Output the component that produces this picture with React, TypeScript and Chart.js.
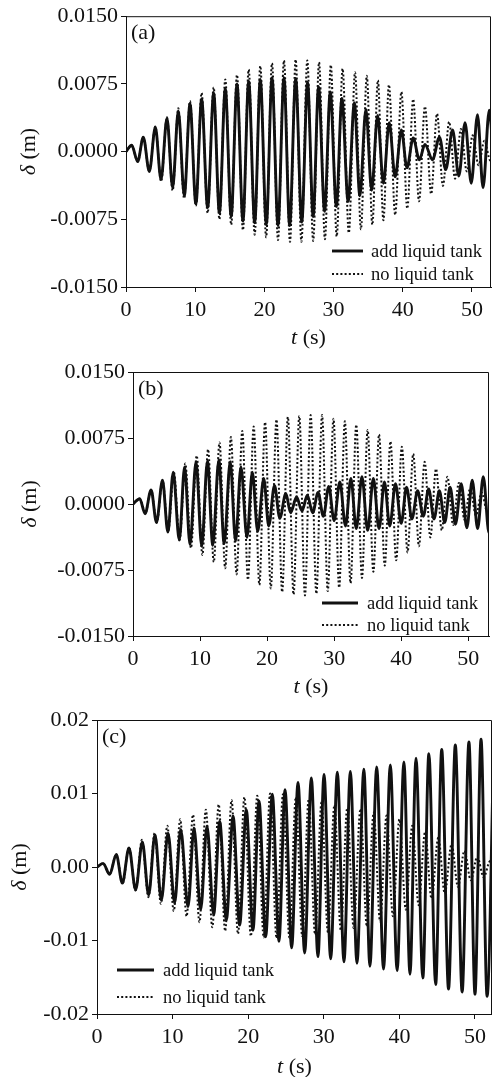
import { useEffect, useRef } from "react";
import { Chart, registerables } from "chart.js";

Chart.register(...registerables);

type Pt = [number, number];

// Axis tick values and series names
const xTicks = [0, 10, 20, 30, 40, 50];
const yTicksAB = [-0.015, -0.0075, 0, 0.0075, 0.015];
const yTicksC = [-0.02, -0.01, 0, 0.01, 0.02];
const seriesNames = ["add liquid tank", "no liquid tank"];
const panelLabels = ["(a)", "(b)", "(c)"];

// Displacement response: successive crests and troughs [t (s), δ (m)]
const addTankA: Pt[] = [
  [0, 0], [0.82, 0.0007], [1.69, -0.0011], [2.5, 0.0016], [3.37, -0.0022], [4.24, 0.0027], [5.06, -0.0031],
  [5.92, 0.0037], [6.74, -0.004], [7.56, 0.0045], [8.43, -0.0049], [9.25, 0.0053], [10.1, -0.0058],
  [10.93, 0.0058], [11.8, -0.0062], [12.67, 0.0065], [13.5, -0.0068], [14.35, 0.007], [15.2, -0.0072],
  [16.04, 0.0075], [16.9, -0.0077], [17.73, 0.0078], [18.6, -0.0079], [19.41, 0.008], [20.28, -0.0081],
  [21.1, 0.0082], [21.97, -0.0082], [22.83, 0.0082], [23.65, -0.0082], [24.52, 0.0081], [25.4, -0.0078],
  [26.24, 0.0077], [27.05, -0.0072], [27.83, 0.0072], [28.7, -0.0066], [29.52, 0.0066], [30.4, -0.0061],
  [31.2, 0.0059], [32.1, -0.0055], [33.0, 0.0054], [33.8, -0.0049], [34.67, 0.0047], [35.5, -0.0043],
  [36.36, 0.004], [37.2, -0.0035], [38.04, 0.0032], [38.9, -0.0028], [39.8, 0.0024], [40.6, -0.0018],
  [41.5, 0.0015], [42.4, -0.0009], [43.2, 0.0008], [44.3, -0.0009], [45.3, 0.0016], [46.2, -0.002],
  [47.2, 0.0024], [48.1, -0.0027], [49.0, 0.0032], [49.9, -0.0035], [50.8, 0.0041], [51.6, -0.004],
  [52.5, 0.0046], [53.3, -0.0044],
];

const noTankA: Pt[] = [
  [0, 0], [0.82, 0.0007], [1.69, -0.0011], [2.5, 0.0016], [3.37, -0.0022], [4.24, 0.0028], [5.08, -0.0033],
  [5.92, 0.0038], [6.74, -0.0043], [7.56, 0.0048], [8.4, -0.0052], [9.25, 0.0056], [10.1, -0.006],
  [10.93, 0.0065], [11.8, -0.0068], [12.67, 0.0071], [13.5, -0.0075], [14.35, 0.008], [15.2, -0.0081],
  [16.04, 0.0085], [16.9, -0.0087], [17.73, 0.0091], [18.6, -0.0092], [19.41, 0.0095], [20.25, -0.0095],
  [21.1, 0.0098], [21.97, -0.0098], [22.83, 0.0101], [23.7, -0.01], [24.52, 0.0102], [25.35, -0.01],
  [26.2, 0.0101], [27.05, -0.0099], [27.9, 0.0099], [28.75, -0.0097], [29.6, 0.0096], [30.45, -0.0094],
  [31.3, 0.0092], [32.2, -0.009], [33.1, 0.0088], [33.95, -0.0086], [34.8, 0.0084], [35.6, -0.0081],
  [36.4, 0.0079], [37.2, -0.0076], [38.0, 0.0074], [38.9, -0.007], [39.8, 0.0066], [40.65, -0.0063],
  [41.5, 0.0058], [42.35, -0.0055], [43.2, 0.005], [44.1, -0.0047], [44.95, 0.0042], [45.8, -0.0038],
  [46.7, 0.0033], [47.55, -0.003], [48.4, 0.0025], [49.25, -0.0022], [50.1, 0.0018], [50.95, -0.0015],
  [51.8, 0.0012], [52.65, -0.001], [53.5, 0.0008],
];

const addTankB: Pt[] = [
  [0, 0], [1.0, 0.0006], [1.8, -0.0011], [2.7, 0.0016], [3.5, -0.0021], [4.4, 0.0027], [5.2, -0.0032],
  [6.0, 0.0036], [6.9, -0.0041], [7.7, 0.0042], [8.5, -0.0046], [9.4, 0.0048], [10.25, -0.0048],
  [11.1, 0.0049], [11.9, -0.0047], [12.8, 0.005], [13.6, -0.0045], [14.5, 0.0048], [15.3, -0.0042],
  [16.1, 0.0042], [17.0, -0.0038], [17.8, 0.0036], [18.6, -0.0031], [19.5, 0.0029], [20.25, -0.0025],
  [21.1, 0.0021], [21.9, -0.0016], [22.8, 0.0012], [23.5, -0.001], [24.4, 0.0008], [25.2, -0.0008],
  [26.0, 0.001], [26.8, -0.001], [27.6, 0.0013], [28.4, -0.0014], [29.2, 0.002], [30.0, -0.0019],
  [30.85, 0.0025], [31.7, -0.0025], [32.5, 0.0029], [33.3, -0.0028], [34.15, 0.0031], [35.0, -0.003],
  [35.85, 0.0029], [36.7, -0.0028], [37.5, 0.0025], [38.3, -0.0025], [39.15, 0.0023], [40.0, -0.0022],
  [40.8, 0.0019], [41.6, -0.0017], [42.45, 0.0015], [43.3, -0.0014], [44.1, 0.0017], [44.9, -0.0017],
  [45.7, 0.0015], [46.5, -0.0021], [47.3, 0.0019], [48.1, -0.0023], [48.95, 0.0023], [49.8, -0.0027],
  [50.6, 0.0027], [51.4, -0.0028], [52.25, 0.0031], [53.1, -0.0033], [53.9, 0.003],
];

const noTankB: Pt[] = [
  [0, 0], [1.0, 0.0006], [1.85, -0.001], [2.7, 0.0016], [3.55, -0.0021], [4.4, 0.0027], [5.25, -0.0031],
  [6.1, 0.0036], [6.95, -0.0041], [7.8, 0.0046], [8.65, -0.005], [9.5, 0.0055], [10.35, -0.0058],
  [11.2, 0.0062], [12.05, -0.0066], [12.9, 0.007], [13.75, -0.0073], [14.6, 0.0076], [15.45, -0.008],
  [16.3, 0.0083], [17.15, -0.0086], [18.0, 0.0088], [18.85, -0.0092], [19.7, 0.0093], [20.55, -0.0096],
  [21.4, 0.0096], [22.25, -0.01], [23.1, 0.0099], [23.95, -0.0103], [24.8, 0.01], [25.65, -0.0104],
  [26.5, 0.0101], [27.35, -0.0102], [28.2, 0.0101], [29.05, -0.0099], [29.9, 0.0097], [30.75, -0.0095],
  [31.6, 0.0094], [32.45, -0.009], [33.3, 0.009], [34.15, -0.0084], [35.0, 0.0084], [35.85, -0.0077],
  [36.7, 0.0079], [37.55, -0.007], [38.4, 0.0071], [39.25, -0.0064], [40.1, 0.0065], [40.95, -0.0055],
  [41.8, 0.0057], [42.65, -0.0048], [43.5, 0.0048], [44.35, -0.0038], [45.2, 0.004], [46.05, -0.003],
  [46.9, 0.0031], [47.75, -0.0024], [48.6, 0.0024], [49.45, -0.0018], [50.3, 0.0018], [51.15, -0.0013],
  [52.0, 0.0013], [52.85, -0.0009], [53.7, 0.0009],
];

const addTankC: Pt[] = [
  [0, 0], [0.8, 0.0005], [1.68, -0.001], [2.55, 0.0017], [3.35, -0.0022], [4.23, 0.0026], [5.11, -0.0031],
  [6.0, 0.0034], [6.83, -0.0038], [7.67, 0.0044], [8.51, -0.0045], [9.4, 0.0046], [10.27, -0.0049],
  [11.07, 0.0051], [12.04, -0.0054], [12.83, 0.0053], [13.71, -0.0058], [14.55, 0.0056], [15.43, -0.0065],
  [16.23, 0.0062], [17.11, -0.0072], [18.0, 0.0069], [18.87, -0.0079], [19.75, 0.0078], [20.63, -0.0086],
  [21.43, 0.009], [22.31, -0.0095], [23.19, 0.0099], [24.07, -0.0101], [24.87, 0.0105], [25.75, -0.011],
  [26.59, 0.0115], [27.47, -0.0117], [28.35, 0.0121], [29.23, -0.0122], [30.03, 0.0126], [30.91, -0.0125],
  [31.79, 0.0129], [32.67, -0.0129], [33.51, 0.013], [34.39, -0.0131], [35.3, 0.0133], [36.1, -0.0135],
  [37.0, 0.0136], [37.9, -0.0139], [38.8, 0.0139], [39.7, -0.0141], [40.6, 0.0143], [41.4, -0.0146],
  [42.2, 0.0148], [43.1, -0.0151], [43.9, 0.0154], [44.8, -0.016], [45.6, 0.016], [46.5, -0.0166],
  [47.4, 0.0166], [48.3, -0.017], [49.2, 0.017], [50.0, -0.0173], [50.8, 0.0174], [51.6, -0.0176],
  [52.5, 0.0177],
];

const noTankC: Pt[] = [
  [0, 0], [0.8, 0.0005], [1.65, -0.001], [2.55, 0.0017], [3.4, -0.0022], [4.23, 0.0027], [5.1, -0.0032],
  [5.95, 0.0037], [6.8, -0.0041], [7.62, 0.0046], [8.45, -0.005], [9.3, 0.0056], [10.15, -0.006],
  [11.0, 0.0065], [11.85, -0.0067], [12.7, 0.0071], [13.55, -0.0075], [14.4, 0.0078], [15.25, -0.0082],
  [16.1, 0.0085], [16.95, -0.0087], [17.8, 0.0091], [18.65, -0.0091], [19.5, 0.0095], [20.35, -0.0094],
  [21.2, 0.0097], [22.05, -0.0096], [22.9, 0.01], [23.75, -0.0097], [24.6, 0.0099], [25.45, -0.0096],
  [26.3, 0.0095], [27.15, -0.0094], [28.0, 0.0092], [28.85, -0.0092], [29.7, 0.0088], [30.55, -0.0089],
  [31.4, 0.0084], [32.25, -0.0086], [33.1, 0.008], [33.95, -0.0083], [34.85, 0.0079], [35.7, -0.0081],
  [36.6, 0.0074], [37.45, -0.0074], [38.3, 0.007], [39.15, -0.0067], [40.0, 0.0065], [40.85, -0.0058],
  [41.7, 0.0056], [42.55, -0.0052], [43.4, 0.0048], [44.25, -0.0043], [45.15, 0.004], [46.0, -0.0036],
  [46.9, 0.0031], [47.75, -0.0027], [48.6, 0.0022], [49.45, -0.0018], [50.3, 0.0014], [51.15, -0.0014],
  [52.0, 0.0008], [52.85, -0.0008],
];

const INK = "#111111";
const SERIF = '"Liberation Serif", "Times New Roman", serif';

interface Panel {
  canvasTop: number;
  canvasHeight: number;
  areaLeft: number;
  areaTop: number;
  areaBottom: number;
  padRight: number;
  xMax: number;
  yTicks: number[];
  decimals: number;
  add: Pt[];
  none: Pt[];
  label: string;
  yTitleX: number;
  xTitleY: number;
  legendX: number;
  legendLen: number;
  legendTextX: number;
  legendY: [number, number];
}

const panels: Panel[] = [
  {
    canvasTop: 0, canvasHeight: 350, areaLeft: 126, areaTop: 16, areaBottom: 287, padRight: 1,
    xMax: 52.75, yTicks: yTicksAB, decimals: 4, add: addTankA, none: noTankA, label: panelLabels[0],
    yTitleX: 29, xTitleY: 338, legendX: 332, legendLen: 31, legendTextX: 371, legendY: [251, 274],
  },
  {
    canvasTop: 350, canvasHeight: 350, areaLeft: 133, areaTop: 22, areaBottom: 286, padRight: 3,
    xMax: 53.1, yTicks: yTicksAB, decimals: 4, add: addTankB, none: noTankB, label: panelLabels[1],
    yTitleX: 30, xTitleY: 337, legendX: 322, legendLen: 36, legendTextX: 367, legendY: [253, 275],
  },
  {
    canvasTop: 700, canvasHeight: 377, areaLeft: 97, areaTop: 20, areaBottom: 314, padRight: 0,
    xMax: 52.25, yTicks: yTicksC, decimals: 2, add: addTankC, none: noTankC, label: panelLabels[2],
    yTitleX: 20, xTitleY: 367, legendX: 117, legendLen: 37, legendTextX: 163, legendY: [270, 297],
  },
];

// Frame, panel tag, axis titles with italic symbols, and the in-plot legend
const decorPlugin = {
  id: "decor",
  afterDraw(chart: any, _args: unknown, opts: any) {
    const p: Panel = opts.panel;
    const { ctx, chartArea: a } = chart;
    ctx.save();
    ctx.strokeStyle = INK;
    ctx.lineWidth = 1;
    ctx.beginPath();
    ctx.moveTo(a.left, a.top + 0.5);
    ctx.lineTo(a.right - 0.5, a.top + 0.5);
    ctx.lineTo(a.right - 0.5, a.bottom);
    ctx.stroke();

    ctx.fillStyle = INK;
    ctx.textBaseline = "middle";
    ctx.textAlign = "left";
    ctx.font = `22px ${SERIF}`;
    ctx.fillText(p.label, a.left + 5, a.top + 17);

    // x title: t (s)
    const xc = (a.left + a.right) / 2;
    ctx.font = `italic 22px ${SERIF}`;
    const wT = ctx.measureText("t").width;
    ctx.font = `22px ${SERIF}`;
    const wS = ctx.measureText(" (s)").width;
    let x0 = xc - (wT + wS) / 2;
    ctx.font = `italic 22px ${SERIF}`;
    ctx.fillText("t", x0, p.xTitleY);
    ctx.font = `22px ${SERIF}`;
    ctx.fillText(" (s)", x0 + wT, p.xTitleY);

    // y title: δ (m)
    ctx.save();
    ctx.translate(p.yTitleX, (a.top + a.bottom) / 2);
    ctx.rotate(-Math.PI / 2);
    ctx.font = `italic 22px ${SERIF}`;
    const wD = ctx.measureText("δ").width;
    ctx.font = `22px ${SERIF}`;
    const wM = ctx.measureText(" (m)").width;
    x0 = -(wD + wM) / 2;
    ctx.font = `italic 22px ${SERIF}`;
    ctx.fillText("δ", x0, 0);
    ctx.font = `22px ${SERIF}`;
    ctx.fillText(" (m)", x0 + wD, 0);
    ctx.restore();

    // legend
    chart.data.datasets.forEach((ds: any, i: number) => {
      const y = p.legendY[i];
      ctx.save();
      ctx.strokeStyle = ds.borderColor;
      ctx.lineWidth = ds.borderWidth;
      ctx.setLineDash(ds.borderDash || []);
      ctx.beginPath();
      ctx.moveTo(p.legendX, y);
      ctx.lineTo(p.legendX + p.legendLen, y);
      ctx.stroke();
      ctx.restore();
      ctx.font = `18.5px ${SERIF}`;
      ctx.fillStyle = INK;
      ctx.textBaseline = "middle";
      ctx.fillText(ds.label, p.legendTextX, y + 1);
    });
    ctx.restore();
  },
};

function PanelChart({ p }: { p: Panel }) {
  const ref = useRef<HTMLCanvasElement | null>(null);
  useEffect(() => {
    if (!ref.current) return;
    const toXY = (s: Pt[]) => s.map(([x, y]) => ({ x, y }));
    const yMax = p.yTicks[p.yTicks.length - 1];
    const yMin = p.yTicks[0];
    const axisGrid = {
      display: true,
      drawOnChartArea: false,
      drawTicks: true,
      tickLength: 5,
      tickColor: INK,
      tickWidth: 1,
    };
    const chart = new Chart(ref.current, {
      type: "line",
      data: {
        datasets: [
          {
            label: seriesNames[0],
            data: toXY(p.add),
            borderColor: INK,
            borderWidth: 2.9,
            pointRadius: 0,
            cubicInterpolationMode: "monotone",
            fill: false,
            clip: 0,
          },
          {
            label: seriesNames[1],
            data: toXY(p.none),
            borderColor: INK,
            borderWidth: 2,
            borderDash: [2, 2.2],
            pointRadius: 0,
            cubicInterpolationMode: "monotone",
            fill: false,
            clip: 0,
          },
        ] as any,
      },
      options: {
        animation: false,
        responsive: false,
        devicePixelRatio: 1,
        layout: { padding: { top: p.areaTop, right: p.padRight, left: 0, bottom: 0 } },
        plugins: {
          legend: { display: false },
          tooltip: { enabled: false },
          decor: { panel: p },
        } as any,
        scales: {
          x: {
            type: "linear",
            min: 0,
            max: p.xMax,
            grid: axisGrid,
            border: { display: true, color: INK, width: 1 },
            ticks: {
              font: { family: SERIF, size: 22 },
              color: INK,
              padding: 5,
              autoSkip: false,
              maxRotation: 0,
              includeBounds: false,
            },
            afterBuildTicks: (s: any) => {
              s.ticks = xTicks.map((v) => ({ value: v }));
            },
            afterFit: (s: any) => {
              s.height = p.canvasHeight - p.areaBottom;
            },
          },
          y: {
            type: "linear",
            min: yMin,
            max: yMax,
            grid: axisGrid,
            border: { display: true, color: INK, width: 1 },
            ticks: {
              font: { family: SERIF, size: 22 },
              color: INK,
              padding: 3,
              autoSkip: false,
              callback: (v: any) => Number(v).toFixed(p.decimals),
            },
            afterBuildTicks: (s: any) => {
              s.ticks = p.yTicks.map((v) => ({ value: v }));
            },
            afterFit: (s: any) => {
              s.width = p.areaLeft;
            },
          },
        } as any,
      },
      plugins: [decorPlugin],
    });
    return () => chart.destroy();
  }, [p]);
  return (
    <canvas
      ref={ref}
      width={492}
      height={p.canvasHeight}
      style={{ position: "absolute", left: 0, top: p.canvasTop, display: "block" }}
    />
  );
}

export default function App() {
  return (
    <div style={{ position: "absolute", left: 0, top: 0, width: 492, height: 1077, background: "#fff" }}>
      {panels.map((p, i) => (
        <PanelChart key={i} p={p} />
      ))}
    </div>
  );
}
